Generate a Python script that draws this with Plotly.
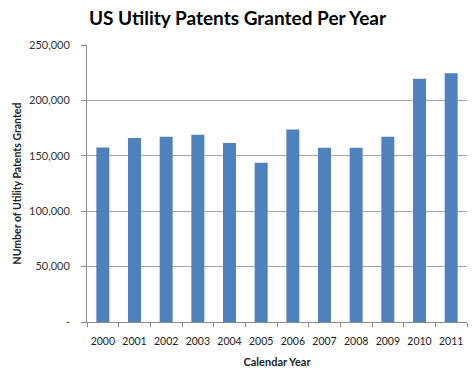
import plotly.graph_objects as go

years = ["2000", "2001", "2002", "2003", "2004", "2005", "2006", "2007", "2008", "2009", "2010", "2011"]
patents = [157500, 166000, 167300, 169000, 161500, 143800, 173800, 157300, 157300, 167300, 219600, 224500]
ytick_vals = [0, 50000, 100000, 150000, 200000, 250000]
ytick_text = ["-", "50,000", "100,000", "150,000", "200,000", "250,000"]

font_family = "Lato, 'Open Sans', sans-serif"

fig = go.Figure(go.Bar(
    x=years, y=patents,
    marker=dict(color="#4F81BD", line=dict(width=0)),
))

fig.update_layout(
    width=475, height=384,
    margin=dict(l=87, r=8, t=45, b=62, autoexpand=False),
    paper_bgcolor="white", plot_bgcolor="white",
    bargap=0.59,
    showlegend=False,
    title=dict(text="<b>US Utility Patents Granted Per Year</b>", x=0.5, xanchor="center",
               y=0.952, yanchor="middle",
               font=dict(family=font_family, size=19, color="#000000")),
    font=dict(family=font_family, size=11, color="#333333"),
)

fig.update_xaxes(
    type="category",
    tickangle=0,
    automargin=False,
    ticklabeloverflow="allow",
    showline=True, linecolor="#8c8c8c", linewidth=1,
    ticks="outside", tickson="boundaries", ticklen=4, tickcolor="#8c8c8c",
    tickfont=dict(size=10.5, color="#222222"),
    ticklabelstandoff=9,
    showgrid=False,
    title=dict(text="<b>Calendar Year</b>", font=dict(size=11, color="#222222"), standoff=12),
)

fig.update_yaxes(
    range=[0, 250000],
    automargin=False,
    tickvals=ytick_vals, ticktext=ytick_text,
    showline=True, linecolor="#8c8c8c", linewidth=1,
    ticks="outside", ticklen=5, tickcolor="#8c8c8c",
    ticklabelstandoff=9,
    showgrid=True, gridcolor="#a6a6a6", gridwidth=1,
    zeroline=False,
    tickfont=dict(size=11, color="#333333"),
    title=dict(text="<b>NUmber of Utility Patents Granted</b>", font=dict(size=10.5, color="#222222"), standoff=5),
)

fig.write_html("out.html", config={"displayModeBar": False},
               post_script="document.body.style.margin='0';")
